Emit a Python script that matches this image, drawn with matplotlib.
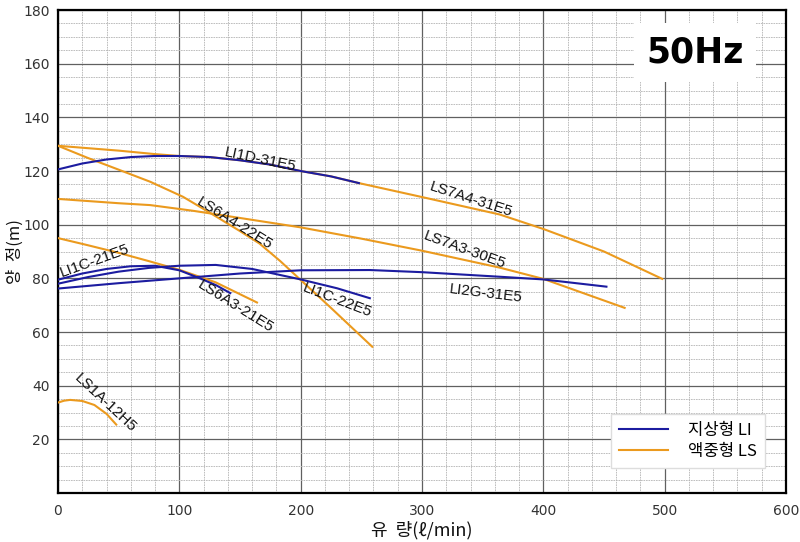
import matplotlib
matplotlib.use("Agg")
import matplotlib.pyplot as plt
from matplotlib.ticker import MultipleLocator

plt.rcParams['font.family'] = ['Noto Sans CJK KR', 'DejaVu Sans']

# ---- data (flow l/min, head m) ----
li1d_x = [0, 20, 40, 60, 80, 100, 125, 150, 175, 200, 225, 248]
li1d_y = [120.6, 122.8, 124.3, 125.2, 125.6, 125.6, 125.2, 124.0, 122.4, 120.0, 118.0, 115.5]

ls7a4_x = [0, 25, 50, 80, 100, 125, 150, 175, 200, 225, 248, 300, 364, 400, 450, 498]
ls7a4_y = [129.4, 128.5, 127.6, 126.3, 125.6, 125.2, 124.0, 122.4, 120.0, 118.0, 115.5, 110.3, 103.8, 98.4, 90.0, 79.8]

ls6a4_x = [0, 25, 50, 76, 103, 125, 150, 166, 183, 200, 224, 259]
ls6a4_y = [129.4, 124.8, 120.5, 116.0, 110.4, 104.5, 97.6, 93.0, 86.5, 79.4, 69.4, 54.5]

ls7a3_x = [0, 50, 76, 111, 150, 200, 250, 300, 364, 400, 467]
ls7a3_y = [109.6, 108.0, 107.3, 105.2, 102.5, 99.0, 94.8, 90.3, 84.0, 79.8, 69.0]

li2g_x = [0, 50, 100, 150, 200, 257, 300, 364, 400, 452]
li2g_y = [76.2, 78.2, 80.0, 81.8, 83.0, 83.1, 82.3, 80.6, 79.6, 76.9]

li1c22_x = [0, 25, 50, 75, 100, 130, 160, 200, 230, 257]
li1c22_y = [78.0, 80.5, 82.5, 83.9, 84.7, 85.0, 83.5, 79.6, 76.3, 72.6]

li1c21_x = [0, 20, 40, 60, 80, 100, 117, 130, 142]
li1c21_y = [79.5, 81.8, 83.5, 84.5, 84.7, 83.0, 80.0, 77.5, 74.5]

ls6a3_x = [0, 25, 50, 75, 100, 130, 164]
ls6a3_y = [95.0, 92.3, 89.5, 86.4, 83.2, 78.5, 71.0]

ls1a_x = [0, 5, 10, 20, 30, 40, 48]
ls1a_y = [33.7, 34.4, 34.7, 34.3, 32.8, 29.5, 25.5]

blue = '#1c1ca0'
orange = '#eb9a1e'

fig = plt.figure(figsize=(8, 5.42), dpi=100)
ax = fig.add_axes([0.0725, 0.0904, 0.91, 0.8911])

for xs, ys in [(ls7a4_x, ls7a4_y), (ls6a4_x, ls6a4_y), (ls7a3_x, ls7a3_y),
               (ls6a3_x, ls6a3_y), (ls1a_x, ls1a_y)]:
    ax.plot(xs, ys, color=orange, lw=1.5, zorder=3)
for xs, ys in [(li1d_x, li1d_y), (li2g_x, li2g_y), (li1c22_x, li1c22_y),
               (li1c21_x, li1c21_y)]:
    ax.plot(xs, ys, color=blue, lw=1.5, zorder=4)

# legend handles
ax.plot([], [], color=blue, lw=1.5, label='지상형 LI')
ax.plot([], [], color=orange, lw=1.5, label='액중형 LS')

ax.set_xlim(0, 600)
ax.set_ylim(0, 180)
ax.xaxis.set_major_locator(MultipleLocator(100))
ax.xaxis.set_minor_locator(MultipleLocator(20))
ax.yaxis.set_major_locator(MultipleLocator(20))
ax.yaxis.set_minor_locator(MultipleLocator(5))
ax.set_yticks([20, 40, 60, 80, 100, 120, 140, 160, 180])
ax.grid(which='major', color='#606060', lw=0.9, ls='-')
ax.grid(which='minor', color='#b4b4b4', lw=0.6, ls=(0, (2, 1)))
ax.set_axisbelow(True)
ax.tick_params(which='both', length=0)
ax.tick_params(axis='y', pad=6, labelsize=10.5, labelcolor='#333333')
ax.tick_params(axis='x', pad=8, labelsize=10.5, labelcolor='#333333')
for lbl in ax.get_xticklabels() + ax.get_yticklabels():
    lbl.set_family(['DejaVu Sans'])
    lbl.set_fontsize(10)
for s in ax.spines.values():
    s.set_color('black')
    s.set_linewidth(1.6)

ax.set_xlabel('유  량(ℓ/min)', fontsize=13, labelpad=2, color='#111111')
ax.set_ylabel('양  정(m)', fontsize=12, labelpad=0, color='#111111')
ax.yaxis.set_label_coords(-0.047, 0.5)

labels = [
    ('LI1D-31E5', 166.5, 124.4, -12),
    ('LS7A4-31E5', 340, 109.2, -18),
    ('LS6A4-22E5', 145.4, 100.3, -32),
    ('LS7A3-30E5', 335.5, 90.6, -20),
    ('LI2G-31E5', 352.8, 74.4, -7),
    ('LI1C-22E5', 230.3, 71.9, -21),
    ('LS6A3-21E5', 146.5, 69.4, -32),
    ('LI1C-21E5', 30.5, 86.6, 20),
    ('LS1A-12H5', 38.7, 33.4, -43),
]
for t, x, y, r in labels:
    ax.text(x, y, t, rotation=r, ha='center', va='center', fontsize=11,
            family=['Liberation Sans'], color='#111111', zorder=5,
            rotation_mode='anchor')

ax.text(0.875, 0.913, '50Hz', transform=ax.transAxes, ha='center', va='center',
        fontsize=25, fontweight='bold', family=['DejaVu Sans'], color='black',
        bbox=dict(facecolor='white', edgecolor='none', pad=9), zorder=6)

leg = ax.legend(loc='lower right', bbox_to_anchor=(0.971, 0.052), borderaxespad=0,
                fancybox=False, framealpha=1, edgecolor='#dddddd', fontsize=12,
                handlelength=2.9, handletextpad=1.2, labelspacing=0.2,
                borderpad=0.5)
leg.set_zorder(7)

fig.savefig('out.png', dpi=100)
